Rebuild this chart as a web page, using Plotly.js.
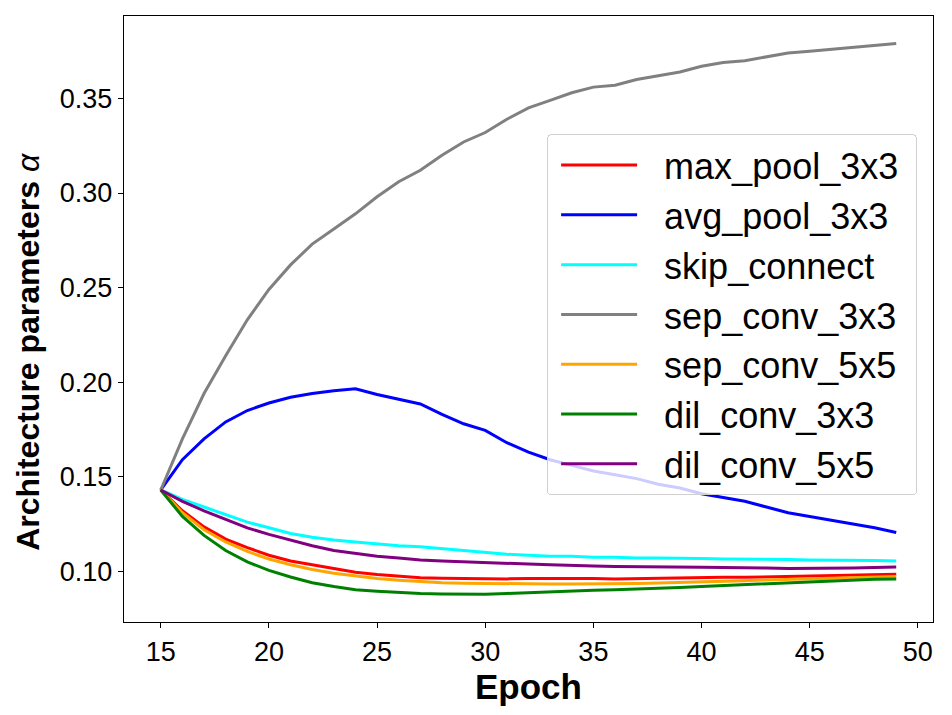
<!DOCTYPE html>
<html>
<head>
<meta charset="utf-8">
<script src="https://cdn.plot.ly/plotly-3.0.1.min.js"></script>
<style>
  body { margin: 0; background: #fff; }
  #chart { width: 952px; height: 715px; }
</style>
</head>
<body>
<div id="chart"></div>
<script>
// epochs 15..49
var epochs = [];
for (var e = 15; e <= 49; e++) epochs.push(e);

var maxPool = [0.143, 0.132, 0.1235, 0.117, 0.1125, 0.1085, 0.1055, 0.1035, 0.1015, 0.0995,
  0.0983, 0.0973, 0.0966, 0.0963, 0.0962, 0.096, 0.096, 0.0962, 0.0963, 0.0963,
  0.0962, 0.096, 0.0962, 0.0965, 0.0966, 0.0967, 0.0968, 0.0968, 0.097, 0.0972,
  0.0974, 0.0977, 0.098, 0.0982, 0.0984];
var avgPool = [0.143, 0.159, 0.170, 0.179, 0.185, 0.189, 0.192, 0.194, 0.1955, 0.1965,
  0.1935, 0.191, 0.1885, 0.183, 0.178, 0.1745, 0.168, 0.163, 0.159, 0.156,
  0.153, 0.151, 0.149, 0.146, 0.144, 0.141, 0.139, 0.137, 0.134, 0.131,
  0.129, 0.127, 0.125, 0.123, 0.1205];
var skipConnect = [0.143, 0.138, 0.134, 0.130, 0.126, 0.123, 0.120, 0.118, 0.1165, 0.1155,
  0.1145, 0.1135, 0.113, 0.112, 0.111, 0.110, 0.109, 0.1085, 0.108, 0.108,
  0.1075, 0.1075, 0.107, 0.107, 0.107, 0.1068, 0.1065, 0.1065, 0.1065, 0.1063,
  0.106, 0.106, 0.106, 0.1057, 0.1055];
var sepConv3 = [0.143, 0.170, 0.194, 0.214, 0.233, 0.249, 0.262, 0.273, 0.281, 0.289,
  0.298, 0.306, 0.312, 0.320, 0.327, 0.332, 0.339, 0.345, 0.349, 0.353,
  0.356, 0.357, 0.360, 0.362, 0.364, 0.367, 0.369, 0.370, 0.372, 0.374,
  0.375, 0.376, 0.377, 0.378, 0.379];
var sepConv5 = [0.143, 0.131, 0.122, 0.1155, 0.1105, 0.1065, 0.1035, 0.101, 0.099, 0.0975,
  0.0962, 0.0953, 0.0945, 0.094, 0.0937, 0.0935, 0.0934, 0.0933, 0.0933, 0.0933,
  0.0933, 0.0934, 0.0936, 0.0938, 0.094, 0.0943, 0.0946, 0.095, 0.0954, 0.0957,
  0.096, 0.0964, 0.0967, 0.097, 0.0973];
var dilConv3 = [0.143, 0.129, 0.119, 0.111, 0.105, 0.1005, 0.097, 0.094, 0.092, 0.0903,
  0.0895, 0.0888, 0.0883, 0.088, 0.0879, 0.0879, 0.0883, 0.0888, 0.0893, 0.0897,
  0.090, 0.0903, 0.0906, 0.091, 0.0915, 0.092, 0.0925, 0.093, 0.0936, 0.0942,
  0.0947, 0.0951, 0.0955, 0.0958, 0.096];
var dilConv5 = [0.143, 0.137, 0.132, 0.1275, 0.123, 0.1195, 0.1165, 0.1135, 0.111, 0.1095,
  0.108, 0.107, 0.106, 0.1055, 0.105, 0.1045, 0.104, 0.1038, 0.1035, 0.103,
  0.1028, 0.1025, 0.1025, 0.1023, 0.1022, 0.1022, 0.102, 0.102, 0.1017, 0.1015,
  0.1015, 0.1015, 0.1017, 0.102, 0.1023];

var names = ['max_pool_3x3', 'avg_pool_3x3', 'skip_connect', 'sep_conv_3x3',
  'sep_conv_5x5', 'dil_conv_3x3', 'dil_conv_5x5'];
var colors = ['red', 'blue', 'cyan', 'gray', 'orange', 'green', 'purple'];
var series = [maxPool, avgPool, skipConnect, sepConv3, sepConv5, dilConv3, dilConv5];

var FONT = 'Liberation Sans, Arial, Helvetica, sans-serif';

var data = [];
for (var i = 0; i < series.length; i++) {
  data.push({
    type: 'scatter',
    mode: 'lines',
    x: epochs,
    y: series[i],
    name: names[i],
    line: { color: colors[i], width: 3 }
  });
}

var layout = {
  width: 952,
  height: 715,
  paper_bgcolor: 'white',
  plot_bgcolor: 'white',
  margin: { l: 124, r: 19, t: 16, b: 93 },
  font: { family: FONT, color: 'black', size: 27 },
  showlegend: true,
  legend: {
    x: 0.523, y: 0.805, xanchor: 'left', yanchor: 'top',
    bgcolor: 'rgba(255,255,255,0.8)',
    bordercolor: '#d0d0d0', borderwidth: 1,
    font: { family: FONT, size: 36, color: 'black' },
    itemwidth: 106
  },
  xaxis: {
    range: [13.3, 50.7],
    tickmode: 'linear', tick0: 15, dtick: 5,
    ticks: 'outside', ticklen: 5, tickwidth: 1, tickcolor: 'black',
    showline: true, mirror: true, linecolor: 'black', linewidth: 1.3,
    showgrid: false, zeroline: false,
    tickfont: { size: 27 },
    title: { text: '<b>Epoch</b>', font: { size: 35 }, standoff: 1 }
  },
  yaxis: {
    range: [0.0732, 0.3936],
    tickmode: 'linear', tick0: 0.10, dtick: 0.05, tickformat: '.2f',
    ticks: 'outside', ticklen: 5, tickwidth: 1, tickcolor: 'black',
    showline: true, mirror: true, linecolor: 'black', linewidth: 1.3,
    showgrid: false, zeroline: false,
    tickfont: { size: 27 }
  },
  annotations: [{
    xref: 'paper', yref: 'paper',
    x: -0.118, y: 0.445, xanchor: 'center', yanchor: 'middle',
    textangle: -90, showarrow: false,
    text: '<b>Architecture parameters</b> <i>α</i>',
    font: { family: FONT, size: 32, color: 'black' }
  }]
};

Plotly.newPlot('chart', data, layout, { staticPlot: true }).then(function() {
  // matplotlib-style longer legend handles
  document.querySelectorAll('.legendlines path').forEach(function(p) {
    p.setAttribute('d', 'M13,0h76');
  });
  // a little right padding and rounded corners on the legend frame
  document.querySelectorAll('.legend rect.bg').forEach(function(r) {
    var w = parseFloat(r.getAttribute('width'));
    r.setAttribute('width', w + 12);
    r.setAttribute('rx', 4);
    r.setAttribute('ry', 4);
  });
});
</script>
</body>
</html>
